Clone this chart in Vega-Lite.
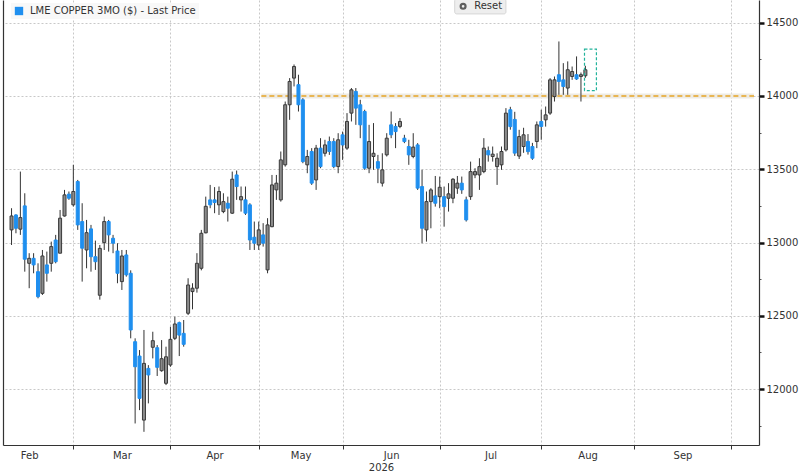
{
  "$schema": "https://vega.github.io/schema/vega-lite/v6.json",
  "width": 756,
  "height": 445,
  "autosize": {"type": "none"},
  "padding": {"left": 3, "top": 0, "right": 41, "bottom": 29},
  "background": "white",
  "config": {
    "view": {"stroke": null},
    "font": "DejaVu Sans",
    "axis": {"labelFont": "DejaVu Sans", "titleFont": "DejaVu Sans"},
    "legend": {"labelFont": "DejaVu Sans"}
  },
  "datasets": {
    "candles": [
      {"day": 0, "o": 13086, "h": 13234, "l": 12983, "c": 13181},
      {"day": 1, "o": 13188, "h": 13193, "l": 13063, "c": 13097},
      {"day": 2, "o": 13091, "h": 13484, "l": 13052, "c": 13170},
      {"day": 3, "o": 13250, "h": 13336, "l": 12801, "c": 12886},
      {"day": 4, "o": 12858, "h": 12927, "l": 12688, "c": 12892},
      {"day": 5, "o": 12892, "h": 12927, "l": 12790, "c": 12847},
      {"day": 6, "o": 12801, "h": 12858, "l": 12619, "c": 12630},
      {"day": 7, "o": 12653, "h": 12949, "l": 12642, "c": 12908},
      {"day": 8, "o": 12847, "h": 12938, "l": 12733, "c": 12790},
      {"day": 9, "o": 12858, "h": 13006, "l": 12801, "c": 12972},
      {"day": 10, "o": 13017, "h": 13052, "l": 12858, "c": 12869},
      {"day": 11, "o": 12927, "h": 13222, "l": 12927, "c": 13166},
      {"day": 12, "o": 13181, "h": 13359, "l": 13177, "c": 13325},
      {"day": 13, "o": 13330, "h": 13348, "l": 13291, "c": 13302},
      {"day": 14, "o": 13257, "h": 13530, "l": 13245, "c": 13348},
      {"day": 15, "o": 13416, "h": 13427, "l": 13086, "c": 13120},
      {"day": 16, "o": 13143, "h": 13268, "l": 12733, "c": 12961},
      {"day": 17, "o": 12949, "h": 13154, "l": 12824, "c": 13067},
      {"day": 18, "o": 13093, "h": 13120, "l": 12801, "c": 12903},
      {"day": 19, "o": 12903, "h": 13013, "l": 12813, "c": 12869},
      {"day": 20, "o": 12640, "h": 12983, "l": 12610, "c": 12960},
      {"day": 21, "o": 12999, "h": 13177, "l": 12949, "c": 13143},
      {"day": 22, "o": 13143, "h": 13154, "l": 12938, "c": 13052},
      {"day": 23, "o": 13029, "h": 13052, "l": 12927, "c": 12995},
      {"day": 24, "o": 12942, "h": 12995, "l": 12722, "c": 12790},
      {"day": 25, "o": 12733, "h": 12949, "l": 12676, "c": 12908},
      {"day": 26, "o": 12915, "h": 12949, "l": 12767, "c": 12779},
      {"day": 27, "o": 12790, "h": 12810, "l": 12346, "c": 12403},
      {"day": 28, "o": 12323, "h": 12346, "l": 11765, "c": 12152},
      {"day": 29, "o": 12225, "h": 12266, "l": 11856, "c": 11936},
      {"day": 30, "o": 11788, "h": 12403, "l": 11708, "c": 12175},
      {"day": 31, "o": 12141, "h": 12163, "l": 11902, "c": 12096},
      {"day": 32, "o": 12285, "h": 12391, "l": 12209, "c": 12330},
      {"day": 33, "o": 12282, "h": 12300, "l": 12089, "c": 12148},
      {"day": 34, "o": 12125, "h": 12334, "l": 12118, "c": 12207},
      {"day": 35, "o": 12039, "h": 12289, "l": 12027, "c": 12220},
      {"day": 36, "o": 12164, "h": 12425, "l": 12152, "c": 12339},
      {"day": 37, "o": 12346, "h": 12494, "l": 12334, "c": 12444},
      {"day": 38, "o": 12453, "h": 12460, "l": 12225, "c": 12368},
      {"day": 39, "o": 12380, "h": 12471, "l": 12289, "c": 12305},
      {"day": 40, "o": 12517, "h": 12756, "l": 12505, "c": 12710},
      {"day": 41, "o": 12665, "h": 12722, "l": 12544, "c": 12688},
      {"day": 42, "o": 12688, "h": 12927, "l": 12658, "c": 12858},
      {"day": 43, "o": 12824, "h": 13086, "l": 12810, "c": 13063},
      {"day": 44, "o": 13066, "h": 13313, "l": 13063, "c": 13247},
      {"day": 45, "o": 13291, "h": 13393, "l": 13234, "c": 13257},
      {"day": 46, "o": 13291, "h": 13378, "l": 13200, "c": 13273},
      {"day": 47, "o": 13257, "h": 13382, "l": 13188, "c": 13348},
      {"day": 48, "o": 13211, "h": 13336, "l": 13200, "c": 13279},
      {"day": 49, "o": 13268, "h": 13313, "l": 13143, "c": 13234},
      {"day": 50, "o": 13200, "h": 13484, "l": 13195, "c": 13432},
      {"day": 51, "o": 13461, "h": 13491, "l": 13291, "c": 13382},
      {"day": 52, "o": 13291, "h": 13382, "l": 13211, "c": 13313},
      {"day": 53, "o": 13291, "h": 13382, "l": 13188, "c": 13200},
      {"day": 54, "o": 13257, "h": 13268, "l": 12949, "c": 13017},
      {"day": 55, "o": 13036, "h": 13143, "l": 12949, "c": 12995},
      {"day": 56, "o": 12983, "h": 13143, "l": 12949, "c": 13086},
      {"day": 57, "o": 13052, "h": 13132, "l": 12972, "c": 12995},
      {"day": 58, "o": 12813, "h": 13166, "l": 12790, "c": 13120},
      {"day": 59, "o": 13108, "h": 13461, "l": 13104, "c": 13393},
      {"day": 60, "o": 13359, "h": 13461, "l": 13291, "c": 13405},
      {"day": 61, "o": 13291, "h": 13621, "l": 13279, "c": 13564},
      {"day": 62, "o": 13530, "h": 13962, "l": 13518, "c": 13940},
      {"day": 63, "o": 13940, "h": 14122, "l": 13837, "c": 14099},
      {"day": 64, "o": 14122, "h": 14215, "l": 14065, "c": 14201},
      {"day": 65, "o": 14077, "h": 14145, "l": 13894, "c": 13940},
      {"day": 66, "o": 13974, "h": 13985, "l": 13541, "c": 13552},
      {"day": 67, "o": 13530, "h": 13632, "l": 13473, "c": 13587},
      {"day": 68, "o": 13621, "h": 13644, "l": 13393, "c": 13405},
      {"day": 69, "o": 13427, "h": 13666, "l": 13359, "c": 13644},
      {"day": 70, "o": 13644, "h": 13712, "l": 13507, "c": 13518},
      {"day": 71, "o": 13609, "h": 13701, "l": 13587, "c": 13666},
      {"day": 72, "o": 13689, "h": 13723, "l": 13598, "c": 13621},
      {"day": 73, "o": 13689, "h": 13712, "l": 13507, "c": 13518},
      {"day": 74, "o": 13518, "h": 13746, "l": 13473, "c": 13701},
      {"day": 75, "o": 13735, "h": 13757, "l": 13564, "c": 13666},
      {"day": 76, "o": 13644, "h": 13883, "l": 13632, "c": 13826},
      {"day": 77, "o": 13883, "h": 14054, "l": 13826, "c": 14042},
      {"day": 78, "o": 14031, "h": 14054, "l": 13803, "c": 13917},
      {"day": 79, "o": 13940, "h": 13974, "l": 13712, "c": 13803},
      {"day": 80, "o": 13894, "h": 13906, "l": 13496, "c": 13507},
      {"day": 81, "o": 13507, "h": 13803, "l": 13473, "c": 13689},
      {"day": 82, "o": 13587, "h": 13815, "l": 13496, "c": 13609},
      {"day": 83, "o": 13552, "h": 13598, "l": 13405, "c": 13507},
      {"day": 84, "o": 13405, "h": 13609, "l": 13382, "c": 13496},
      {"day": 85, "o": 13598, "h": 13746, "l": 13587, "c": 13712},
      {"day": 86, "o": 13803, "h": 13894, "l": 13712, "c": 13735},
      {"day": 87, "o": 13792, "h": 13815, "l": 13644, "c": 13757},
      {"day": 88, "o": 13792, "h": 13849, "l": 13780, "c": 13826},
      {"day": 89, "o": 13712, "h": 13735, "l": 13678, "c": 13689},
      {"day": 90, "o": 13655, "h": 13701, "l": 13530, "c": 13598},
      {"day": 91, "o": 13587, "h": 13746, "l": 13575, "c": 13651},
      {"day": 92, "o": 13666, "h": 13678, "l": 13359, "c": 13371},
      {"day": 93, "o": 13382, "h": 13496, "l": 12995, "c": 13097},
      {"day": 94, "o": 13086, "h": 13348, "l": 13006, "c": 13279},
      {"day": 95, "o": 13279, "h": 13371, "l": 13097, "c": 13359},
      {"day": 96, "o": 13318, "h": 13454, "l": 13245, "c": 13268},
      {"day": 97, "o": 13313, "h": 13450, "l": 13234, "c": 13377},
      {"day": 98, "o": 13313, "h": 13382, "l": 13108, "c": 13245},
      {"day": 99, "o": 13302, "h": 13405, "l": 13211, "c": 13332},
      {"day": 100, "o": 13302, "h": 13439, "l": 13268, "c": 13432},
      {"day": 101, "o": 13371, "h": 13454, "l": 13332, "c": 13405},
      {"day": 102, "o": 13405, "h": 13450, "l": 13332, "c": 13359},
      {"day": 103, "o": 13291, "h": 13313, "l": 13143, "c": 13154},
      {"day": 104, "o": 13313, "h": 13552, "l": 13291, "c": 13484},
      {"day": 105, "o": 13461, "h": 13507, "l": 13439, "c": 13484},
      {"day": 106, "o": 13461, "h": 13575, "l": 13359, "c": 13518},
      {"day": 107, "o": 13484, "h": 13712, "l": 13473, "c": 13644},
      {"day": 108, "o": 13627, "h": 13655, "l": 13552, "c": 13598},
      {"day": 109, "o": 13587, "h": 13655, "l": 13552, "c": 13603},
      {"day": 110, "o": 13518, "h": 13609, "l": 13393, "c": 13575},
      {"day": 111, "o": 13530, "h": 13655, "l": 13496, "c": 13621},
      {"day": 112, "o": 13632, "h": 13917, "l": 13621, "c": 13883},
      {"day": 113, "o": 13906, "h": 13926, "l": 13770, "c": 13791},
      {"day": 114, "o": 13840, "h": 13892, "l": 13591, "c": 13610},
      {"day": 115, "o": 13590, "h": 13769, "l": 13570, "c": 13723},
      {"day": 116, "o": 13655, "h": 13783, "l": 13612, "c": 13735},
      {"day": 117, "o": 13690, "h": 13740, "l": 13600, "c": 13620},
      {"day": 118, "o": 13655, "h": 13680, "l": 13564, "c": 13575},
      {"day": 119, "o": 13689, "h": 13826, "l": 13644, "c": 13803},
      {"day": 120, "o": 13826, "h": 13906, "l": 13701, "c": 13792},
      {"day": 121, "o": 13837, "h": 13928, "l": 13791, "c": 13871},
      {"day": 122, "o": 13883, "h": 14122, "l": 13871, "c": 14110},
      {"day": 123, "o": 13996, "h": 14133, "l": 13962, "c": 14110},
      {"day": 124, "o": 14145, "h": 14372, "l": 14008, "c": 14099},
      {"day": 125, "o": 14110, "h": 14224, "l": 14008, "c": 14065},
      {"day": 126, "o": 14054, "h": 14236, "l": 14008, "c": 14179},
      {"day": 127, "o": 14133, "h": 14201, "l": 14110, "c": 14167},
      {"day": 128, "o": 14145, "h": 14270, "l": 14110, "c": 14116},
      {"day": 129, "o": 14133, "h": 14160, "l": 13962, "c": 14145},
      {"day": 130, "o": 14138, "h": 14206, "l": 14124, "c": 14179}
    ]
  },
  "layer": [
    {
      "data": {"values": [{"level": 14000, "from": 56.6, "to": 168.2}]},
      "mark": {"type": "rule", "strokeWidth": 5, "color": "#eeebe4"},
      "encoding": {
        "x": {"field": "from", "type": "quantitative", "scale": {"domain": [-0.8, 168.2], "nice": false, "zero": false}, "axis": null},
        "x2": {"field": "to"},
        "y": {"field": "level", "type": "quantitative", "scale": {"domain": [11618, 14655], "nice": false, "zero": false}, "axis": null}
      }
    },
    {
      "data": {"values": [{"level": 14000, "from": 56.6, "to": 168.2}]},
      "mark": {"type": "rule", "strokeWidth": 1.5, "color": "#e6a524", "strokeDash": [5, 3]},
      "encoding": {
        "x": {"field": "from", "type": "quantitative", "scale": {"domain": [-0.8, 168.2], "nice": false, "zero": false}, "axis": null},
        "x2": {"field": "to"},
        "y": {"field": "level", "type": "quantitative", "scale": {"domain": [11618, 14655], "nice": false, "zero": false},
          "axis": {"orient": "left", "labels": false, "ticks": false, "grid": false, "domainColor": "#333333", "domainWidth": 1.2, "title": null}}
      }
    },
    {
      "data": {"name": "candles"},
      "mark": {"type": "rule", "color": "#333333", "strokeWidth": 1},
      "encoding": {
        "x": {"field": "day", "type": "quantitative", "scale": {"domain": [-0.8, 168.2], "nice": false, "zero": false},
          "axis": {"orient": "bottom", "values": [4, 25, 46, 65.5, 86, 108.5, 130.5, 152],
            "labelExpr": "datum.value == 4 ? 'Feb' : datum.value == 25 ? 'Mar' : datum.value == 46 ? 'Apr' : datum.value == 65.5 ? 'May' : datum.value == 86 ? 'Jun' : datum.value == 108.5 ? 'Jul' : datum.value == 130.5 ? 'Aug' : 'Sep'",
            "ticks": false, "domain": false, "grid": false, "labelPadding": 5, "labelFontSize": 10, "labelColor": "#333333",
            "labelOverlap": false, "labelFlush": false, "labelBound": false,
            "title": "2026", "titleFontSize": 10, "titleFontWeight": "normal", "titleColor": "#333333", "titlePadding": 2}},
        "y": {"field": "l", "type": "quantitative", "scale": {"domain": [11618, 14655], "nice": false, "zero": false},
          "axis": {"orient": "right", "values": [11750, 12250, 12750, 13250, 13750, 14250], "labels": false, "tickSize": 2, "tickColor": "#555555", "domain": false, "grid": false, "title": null}},
        "y2": {"field": "h"}
      }
    },
    {
      "data": {"name": "candles"},
      "transform": [{"calculate": "datum.c >= datum.o ? 'up' : 'down'", "as": "dir"}],
      "mark": {"type": "bar", "width": 3, "strokeWidth": 1},
      "encoding": {
        "x": {"field": "day", "type": "quantitative", "scale": {"domain": [-0.8, 168.2], "nice": false, "zero": false},
          "axis": {"orient": "bottom", "values": [14, 36, 56, 75, 97, 120, 141, 163], "labels": false,
            "tickSize": 4, "tickColor": "#333333", "grid": true, "gridColor": "#c8c8c8", "gridDash": [2, 2],
            "domainColor": "#333333", "domainWidth": 1.2, "title": null}},
        "y": {"field": "o", "type": "quantitative", "scale": {"domain": [11618, 14655], "nice": false, "zero": false},
          "axis": {"orient": "right", "values": [12000, 12500, 13000, 13500, 14000, 14500], "format": "d",
            "tickSize": 5, "tickWidth": 2.5, "tickColor": "#111111", "grid": true, "gridColor": "#c8c8c8", "gridDash": [2, 2],
            "domainColor": "#333333", "domainWidth": 1.2, "labelFontSize": 10, "labelPadding": 2, "labelColor": "#333333", "title": null}},
        "y2": {"field": "c"},
        "color": {"field": "dir", "type": "nominal",
          "scale": {"domain": ["up", "down"], "range": ["#8c8c8c", "#1f8fef"]},
          "legend": {"values": ["down"], "labelExpr": "'LME COPPER 3MO ($) - Last Price'", "title": null,
            "orient": "none", "legendX": 8, "legendY": 3, "symbolType": "square", "symbolSize": 70, "symbolStrokeWidth": 0,
            "labelFontSize": 10, "labelColor": "#333333", "labelOffset": 6, "labelLimit": 400, "padding": 3, "fillColor": "rgba(247,247,247,0.9)"}},
        "stroke": {"field": "dir", "type": "nominal",
          "scale": {"domain": ["up", "down"], "range": ["#3a3a3a", "#1f8fef"]}, "legend": null}
      }
    },
    {
      "data": {"values": [{"from": 129.8, "to": 132.5, "top": 14320, "bottom": 14037}]},
      "mark": {"type": "rect", "filled": false, "stroke": "#22b39b", "strokeWidth": 1.2, "strokeDash": [3, 2]},
      "encoding": {
        "x": {"field": "from", "type": "quantitative", "scale": {"domain": [-0.8, 168.2], "nice": false, "zero": false}, "axis": null},
        "x2": {"field": "to"},
        "y": {"field": "top", "type": "quantitative", "scale": {"domain": [11618, 14655], "nice": false, "zero": false}, "axis": null},
        "y2": {"field": "bottom"}
      }
    },
    {
      "data": {"values": [{"from": 100.4, "to": 112.0, "top": 14662, "bottom": 14560}]},
      "mark": {"type": "rect", "fill": "#eeeeee", "stroke": "#d6d6d6", "strokeWidth": 1, "cornerRadius": 2},
      "encoding": {
        "x": {"field": "from", "type": "quantitative", "scale": {"domain": [-0.8, 168.2], "nice": false, "zero": false}, "axis": null},
        "x2": {"field": "to"},
        "y": {"field": "top", "type": "quantitative", "scale": {"domain": [11618, 14655], "nice": false, "zero": false}, "axis": null},
        "y2": {"field": "bottom"}
      }
    },
    {
      "data": {"values": [{"at": 102.3, "level": 14612}]},
      "mark": {"type": "point", "shape": "circle", "filled": false, "size": 24, "strokeWidth": 2.2, "color": "#222222"},
      "encoding": {
        "x": {"field": "at", "type": "quantitative", "scale": {"domain": [-0.8, 168.2], "nice": false, "zero": false}, "axis": null},
        "y": {"field": "level", "type": "quantitative", "scale": {"domain": [11618, 14655], "nice": false, "zero": false}, "axis": null}
      }
    },
    {
      "data": {"values": [{"at": 104.8, "level": 14612, "label": "Reset"}]},
      "mark": {"type": "text", "align": "left", "baseline": "middle", "fontSize": 10, "color": "#333333", "font": "DejaVu Sans"},
      "encoding": {
        "x": {"field": "at", "type": "quantitative", "scale": {"domain": [-0.8, 168.2], "nice": false, "zero": false}, "axis": null},
        "y": {"field": "level", "type": "quantitative", "scale": {"domain": [11618, 14655], "nice": false, "zero": false}, "axis": null},
        "text": {"field": "label"}
      }
    }
  ],
  "resolve": {"axis": {"x": "independent", "y": "independent"}}
}
